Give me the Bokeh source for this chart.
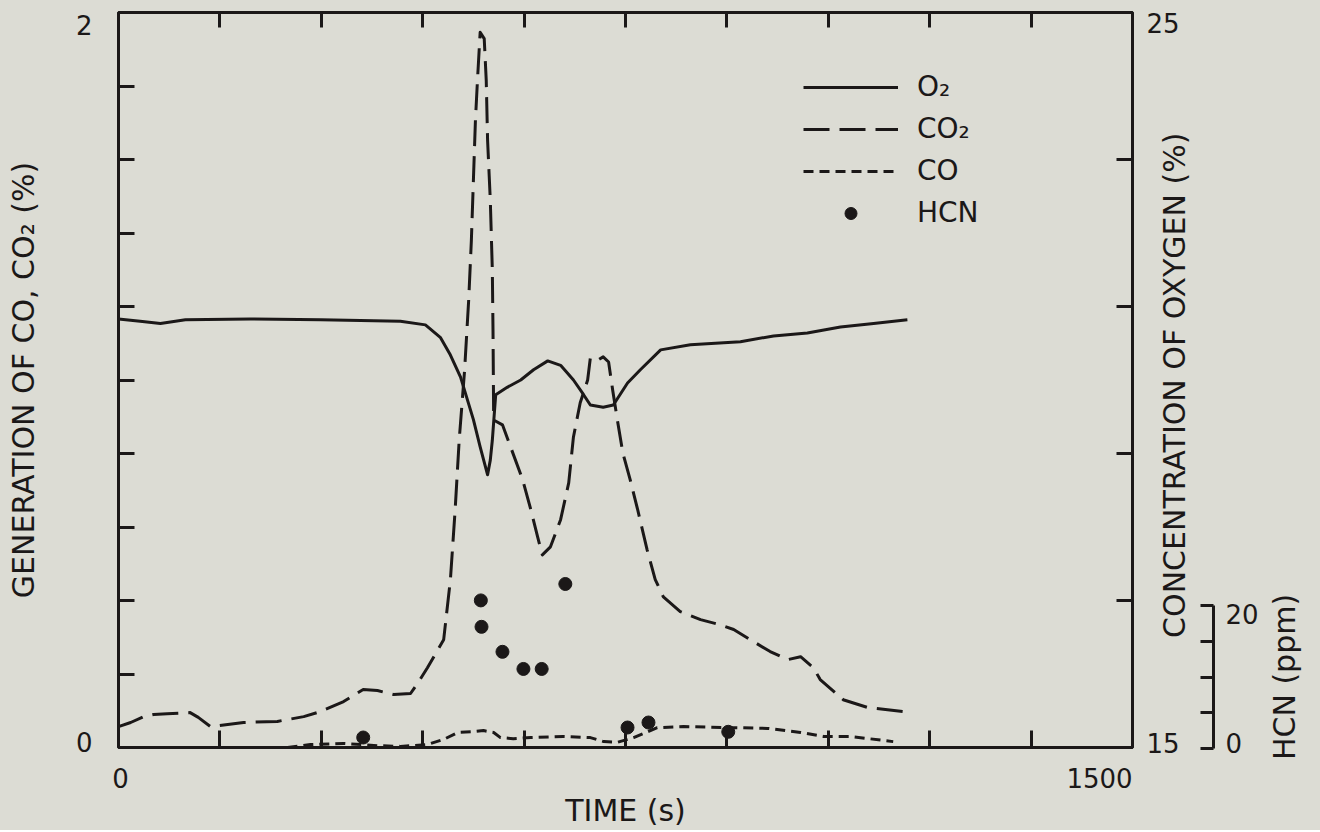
from bokeh.plotting import figure
from bokeh.layouts import row
from bokeh.models import Range1d, LinearAxis, FixedTicker, Legend, LegendItem, Title
from bokeh.embed import file_html
from bokeh.resources import INLINE

# ---------------- data ----------------
co2_time = [0, 18, 37, 52, 72, 106, 118, 136, 185, 235, 274, 299, 333, 362, 383, 407, 432, 444, 457, 481,
            491, 498, 504, 512, 518, 522, 525, 528, 531, 535, 541, 544, 546, 550, 553, 554, 555, 568, 580, 598,
            610, 620, 627, 639, 654, 666, 673, 683, 694, 698, 709, 717, 725, 731, 738, 746, 757, 768, 782, 794,
            806, 831, 861, 890, 910, 935, 964, 990, 1009, 1028, 1038, 1072, 1108, 1160]
co2_pct = [0.057, 0.068, 0.084, 0.090, 0.092, 0.095, 0.082, 0.057, 0.068, 0.071, 0.084, 0.098, 0.125, 0.158,
           0.155, 0.144, 0.147, 0.179, 0.217, 0.293, 0.457, 0.647, 0.837, 1.027, 1.217, 1.380, 1.543, 1.707,
           1.815, 1.946, 1.929, 1.815, 1.652, 1.489, 1.299, 1.136, 0.891, 0.878, 0.818, 0.728, 0.647, 0.573,
           0.524, 0.546, 0.620, 0.720, 0.845, 0.938, 1.000, 1.060, 1.054, 1.063, 1.049, 0.973, 0.891, 0.802,
           0.728, 0.647, 0.538, 0.457, 0.410, 0.370, 0.348, 0.334, 0.321, 0.293, 0.261, 0.239, 0.247, 0.217,
           0.185, 0.130, 0.109, 0.098]

o2_time = [0, 32, 62, 99, 195, 299, 417, 454, 476, 491, 506, 525, 535, 546, 550, 553, 558, 575, 595, 614,
           635, 654, 673, 688, 698, 717, 732, 753, 772, 802, 846, 920, 969, 1019, 1068, 1117, 1167]
o2_pct = [20.83, 20.80, 20.77, 20.82, 20.83, 20.82, 20.80, 20.75, 20.58, 20.34, 20.04, 19.46, 19.09, 18.71,
          18.91, 19.18, 19.80, 19.90, 20.00, 20.14, 20.26, 20.20, 20.00, 19.80, 19.66, 19.63, 19.66, 19.96,
          20.14, 20.41, 20.48, 20.52, 20.60, 20.64, 20.72, 20.77, 20.82]

co_time = [250, 284, 333, 383, 417, 457, 481, 502, 525, 540, 555, 565, 584, 610, 658, 698, 718, 738, 762,
           797, 836, 910, 960, 1009, 1043, 1083, 1146]
co_pct = [0.000, 0.008, 0.011, 0.005, 0.003, 0.008, 0.022, 0.041, 0.043, 0.046, 0.041, 0.027, 0.024, 0.027,
          0.030, 0.027, 0.016, 0.014, 0.027, 0.054, 0.057, 0.054, 0.052, 0.041, 0.030, 0.030, 0.016]

hcn_time = [362, 536, 537, 568, 599, 626, 661, 753, 784, 902]
hcn_ppm = [1.4, 20.6, 16.9, 13.4, 11.0, 11.0, 22.9, 2.8, 3.5, 2.2]

x_range_vals = (0, 1500)
left_range_vals = (0, 2)
o2_range_vals = (15, 25)
hcn_axis_vals = (0, 20)

x_label_values = [0, 1500]
x_tick_values = [150, 300, 450, 600, 750, 900, 1050, 1200, 1350]
left_label_values = [0, 2]
left_tick_values = [0.2, 0.4, 0.6, 0.8, 1.0, 1.2, 1.4, 1.6, 1.8]
o2_label_values = [15, 25]
o2_tick_values = [17, 19, 21, 23]
hcn_label_values = [0, 20]
hcn_tick_values = [0, 5, 10, 15, 20]

series_names = ["O\u2082", "CO\u2082", "CO", "HCN"]
x_title = "TIME (s)"
left_title = "GENERATION OF CO, CO\u2082 (%)"
o2_title = "CONCENTRATION  OF OXYGEN (%)"
hcn_title = "HCN (ppm)"

# ---------------- layout / style ----------------
W, H = 1320, 830
F_LEFT, F_TOP, F_RIGHT, F_BOTTOM = 118, 12, 1132, 748
FRAME_W, FRAME_H = F_RIGHT - F_LEFT, F_BOTTOM - F_TOP
HCN_TOP = 605        # pixel row of the top of the HCN scale
W1 = F_RIGHT + 2     # main figure
O2_TITLE_X = 1174    # centre of the oxygen title
O2_LABEL_RIGHT = 1181
HCN_LINE = 1213      # x of the HCN scale line
W2 = 1261 - W1       # oxygen labels/title + HCN scale
HCN_TITLE_X = 1284   # centre of the HCN title
W3 = W - W1 - W2
INK = "#1b1818"
BG = "#dcdcd4"
FONT = "DejaVu Sans"
TITLE_BOX = 35       # approx. height of a 30px title line


def shifted(values, shifts_px, rng, span_px):
    k = (rng[1] - rng[0]) / span_px
    return [v + s * k for v, s in zip(values, shifts_px)]


def style_axis(ax, tick_len=16):
    ax.axis_line_color = INK
    ax.axis_line_width = 3
    ax.major_tick_line_color = None
    ax.major_tick_in = 0
    ax.major_tick_out = 0
    ax.minor_tick_line_color = INK
    ax.minor_tick_line_width = 3
    ax.minor_tick_in = tick_len
    ax.minor_tick_out = 0
    ax.major_label_text_font = FONT
    ax.major_label_text_font_size = "26px"
    ax.major_label_text_color = INK
    ax.axis_label_text_font = FONT
    ax.axis_label_text_font_size = "30px"
    ax.axis_label_text_font_style = "normal"
    ax.axis_label_text_color = INK


def plain(fig):
    fig.background_fill_color = BG
    fig.border_fill_color = BG
    fig.outline_line_color = None
    fig.xgrid.visible = False
    fig.ygrid.visible = False


def side_title(text):
    return Title(text=text, align="center", vertical_align="middle", standoff=0,
                 text_font=FONT, text_font_size="30px", text_font_style="normal", text_color=INK)


hcn_span = (hcn_axis_vals[0], hcn_axis_vals[1] * FRAME_H / (F_BOTTOM - HCN_TOP))

# ---------------- main figure ----------------
p = figure(width=W1, height=H, x_range=Range1d(*x_range_vals), y_range=Range1d(*left_range_vals),
           x_axis_type=None, y_axis_type=None, output_backend="svg", toolbar_location=None,
           min_border_left=F_LEFT, min_border_right=W1 - F_RIGHT, min_border_top=F_TOP,
           min_border_bottom=H - F_BOTTOM, frame_align=False)
p.extra_y_ranges = {"o2": Range1d(*o2_range_vals), "hcn": Range1d(*hcn_span)}
plain(p)
p.outline_line_color = INK
p.outline_line_width = 3

xl = shifted(x_label_values, [2, -33], x_range_vals, FRAME_W)
xb = LinearAxis(ticker=FixedTicker(ticks=xl, minor_ticks=x_tick_values),
                major_label_overrides={v: str(t) for v, t in zip(xl, x_label_values)},
                axis_label=x_title)
style_axis(xb, 17)
xb.major_label_standoff = 20
xb.axis_label_standoff = 2
p.add_layout(xb, "below")

xt = LinearAxis(ticker=FixedTicker(ticks=[], minor_ticks=x_tick_values))
style_axis(xt, 15)
xt.major_label_standoff = 0
p.add_layout(xt, "above")

yl = shifted(left_label_values, [6, -13], left_range_vals, FRAME_H)
ya = LinearAxis(ticker=FixedTicker(ticks=yl, minor_ticks=left_tick_values),
                major_label_overrides={v: str(t) for v, t in zip(yl, left_label_values)},
                axis_label=left_title)
style_axis(ya, 16)
ya.major_label_standoff = 26
ya.axis_label_standoff = 32
p.add_layout(ya, "left")

# oxygen scale: line and ticks here, numbers and title in the next panel
oa = LinearAxis(y_range_name="o2", ticker=FixedTicker(ticks=[], minor_ticks=o2_tick_values))
style_axis(oa, 16)
oa.major_label_standoff = 0
p.add_layout(oa, "right")

r_o2 = p.line(o2_time, o2_pct, y_range_name="o2", line_color=INK, line_width=3, line_join="round")
r_co2 = p.line(co2_time, co2_pct, line_color=INK, line_width=3, line_dash="26 10", line_join="round")
r_co = p.line(co_time, co_pct, line_color=INK, line_width=3, line_dash="10 6", line_join="round")
r_hcn = p.scatter(hcn_time, hcn_ppm, y_range_name="hcn", size=13, marker="circle",
                  fill_color=INK, line_color=INK)

legend = Legend(items=[LegendItem(label=n, renderers=[r]) for n, r in
                       zip(series_names, [r_o2, r_co2, r_co, r_hcn])],
                location=(685, 518), border_line_color=None, background_fill_alpha=0,
                padding=0, margin=0, spacing=9, glyph_width=95, glyph_height=30,
                label_standoff=19, label_text_font=FONT, label_text_font_size="28px",
                label_text_color=INK)
p.add_layout(legend)

# ---------------- oxygen numbers + title, HCN scale ----------------
f2_left = O2_TITLE_X + TITLE_BOX // 2 + 1
q = figure(width=W2, height=H, x_range=Range1d(0, 1), y_range=Range1d(*o2_range_vals),
           x_axis_type=None, y_axis_type=None, output_backend="svg", toolbar_location=None,
           min_border_left=f2_left - W1, min_border_right=W1 + W2 - HCN_LINE, min_border_top=F_TOP,
           min_border_bottom=H - F_BOTTOM, frame_align=False)
q.extra_y_ranges = {"hcn": Range1d(*hcn_span)}
plain(q)
q.add_layout(side_title(o2_title), "left")

ol = shifted(o2_label_values, [6, -10], o2_range_vals, FRAME_H)
on = LinearAxis(ticker=FixedTicker(ticks=ol),
                major_label_overrides={v: str(t) for v, t in zip(ol, o2_label_values)})
style_axis(on, 0)
on.axis_line_color = None
on.minor_tick_line_color = None
on.major_label_standoff = (f2_left - TITLE_BOX) - O2_LABEL_RIGHT
q.add_layout(on, "left")

hl = shifted(hcn_label_values, [6, -8], hcn_span, FRAME_H)
ha = LinearAxis(y_range_name="hcn", ticker=FixedTicker(ticks=hl, minor_ticks=hcn_tick_values),
                major_label_overrides={v: str(t) for v, t in zip(hl, hcn_label_values)},
                bounds=(hcn_label_values[0], hcn_label_values[1]))
style_axis(ha, 13)
ha.major_label_standoff = 12
q.add_layout(ha, "right")

# ---------------- HCN title (frame spans the HCN scale, 0-20 ppm) ----------------
f3_left = HCN_TITLE_X + TITLE_BOX // 2 + 1
t = figure(width=W3, height=H, x_range=Range1d(0, 1), y_range=Range1d(*hcn_axis_vals),
           x_axis_type=None, y_axis_type=None, output_backend="svg", toolbar_location=None,
           min_border_left=f3_left - W1 - W2, min_border_right=0, min_border_top=HCN_TOP,
           min_border_bottom=H - F_BOTTOM, frame_align=False)
plain(t)
t.add_layout(side_title(hcn_title), "left")

layout = row(p, q, t, styles={"background-color": BG})
open("out.html", "w").write(file_html(layout, INLINE))
